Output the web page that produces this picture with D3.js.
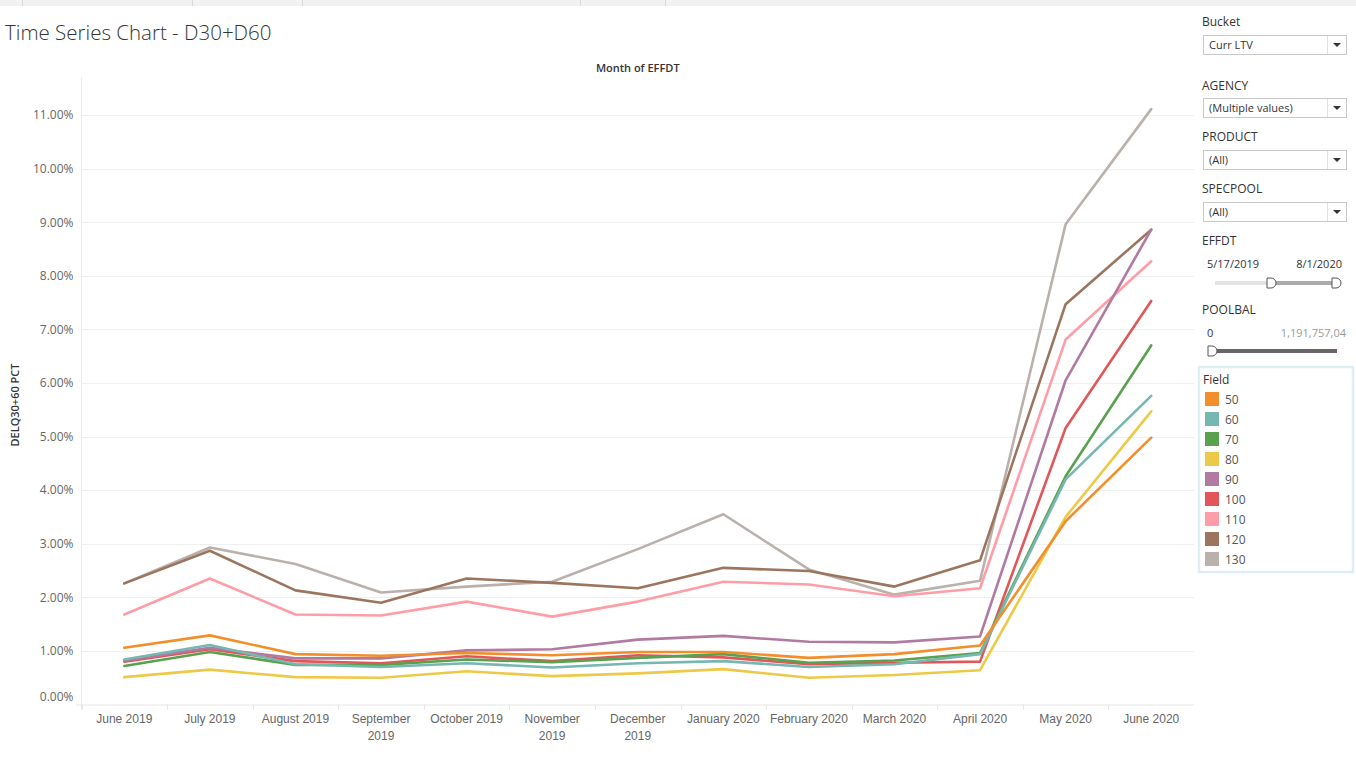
<!DOCTYPE html>
<html>
<head>
<meta charset="utf-8">
<script src="https://cdn.jsdelivr.net/npm/d3@7"></script>
<style>
  html, body { margin: 0; padding: 0; background: #fff; }
  svg { display: block; font-family: "Open Sans", "Noto Sans", sans-serif; }
</style>
</head>
<body>
<svg id="chart" width="1356" height="770"></svg>
<script>
// ---- data ----
const months = ["June 2019","July 2019","August 2019","September 2019","October 2019","November 2019","December 2019","January 2020","February 2020","March 2020","April 2020","May 2020","June 2020"];
const monthLabels = [["June 2019"],["July 2019"],["August 2019"],["September","2019"],["October 2019"],["November","2019"],["December","2019"],["January 2020"],["February 2020"],["March 2020"],["April 2020"],["May 2020"],["June 2020"]];
const fields = ["50","60","70","80","90","100","110","120","130"];
const fieldColors = ["#f28e2b","#76b7b2","#59a14f","#edc948","#b07aa1","#e15759","#ff9da7","#9c755f","#bab0ac"];
const s50  = [1.06,1.29,0.94,0.91,0.96,0.92,0.98,0.98,0.87,0.94,1.10,3.42,4.98];
const s60  = [0.84,1.11,0.75,0.70,0.77,0.69,0.77,0.81,0.70,0.75,0.94,4.20,5.76];
const s70  = [0.72,0.98,0.74,0.74,0.84,0.79,0.87,0.94,0.78,0.82,0.96,4.26,6.70];
const s80  = [0.51,0.65,0.51,0.50,0.62,0.53,0.58,0.66,0.50,0.55,0.64,3.50,5.47];
const s90  = [0.82,1.06,0.86,0.86,1.01,1.03,1.21,1.28,1.17,1.16,1.27,6.05,8.86];
const s100 = [0.80,1.03,0.81,0.77,0.90,0.81,0.92,0.88,0.75,0.78,0.80,5.16,7.53];
const s110 = [1.68,2.35,1.68,1.66,1.92,1.64,1.92,2.29,2.24,2.02,2.17,6.81,8.27];
const s120 = [2.26,2.87,2.13,1.90,2.35,2.27,2.17,2.55,2.49,2.20,2.69,7.47,8.86];
const s130 = [2.26,2.93,2.62,2.09,2.20,2.29,2.90,3.55,2.52,2.05,2.31,8.96,11.11];
const seriesValues = [s50,s60,s70,s80,s90,s100,s110,s120,s130];
const yTicks = [0,1,2,3,4,5,6,7,8,9,10,11];

// ---- layout ----
const svg = d3.select("#chart");
const plot = {left: 81.5, right: 1194, top: 77.5, bottom: 704.5};

const x = d3.scaleBand().domain(months).range([plot.left, plot.right]).paddingInner(0).paddingOuter(0);
const y = d3.scaleLinear().domain([0, 11.7]).range([plot.bottom, plot.top]);
const color = d3.scaleOrdinal().domain(fields).range(fieldColors);

// top strip
svg.append("rect").attr("x",0).attr("y",0).attr("width",1356).attr("height",6).attr("fill","#f2f2f2");
[22,192,302,580,665].forEach(px => svg.append("line").attr("x1",px+0.5).attr("x2",px+0.5).attr("y1",0).attr("y2",6).attr("stroke","#d9d9d9"));

// title
svg.append("text").attr("x",5).attr("y",40).attr("font-size",20.5).attr("fill","#333")
  .attr("font-family","'Open Sans', sans-serif").style("font-weight",300)
  .text("Time Series Chart - D30+D60");

// column header
svg.append("text").attr("x",(plot.left+plot.right)/2 + 0).attr("y",72).attr("text-anchor","middle")
  .attr("font-size",11).attr("font-weight",600).attr("fill","#333").text("Month of EFFDT");

// gridlines
svg.append("g").selectAll("line").data(yTicks.filter(d=>d>0)).join("line")
  .attr("x1",plot.left).attr("x2",plot.right)
  .attr("y1",d=>Math.round(y(d))+0.5).attr("y2",d=>Math.round(y(d))+0.5)
  .attr("stroke","#efefef").attr("stroke-width",1);

// y axis
const yAxis = svg.append("g").attr("transform",`translate(${plot.left},0)`)
  .call(d3.axisLeft(y).tickValues(yTicks).tickSize(0).tickPadding(8).tickFormat(d => d3.format(".2f")(d) + "%"));
yAxis.select(".domain").remove();
yAxis.selectAll("text").attr("font-size",12).attr("fill","#666").attr("font-family","'Open Sans', sans-serif")
  .attr("dy", d => d === 0 ? "-0.3em" : "0.32em");
svg.append("line").attr("x1",plot.left).attr("x2",plot.left).attr("y1",plot.top).attr("y2",plot.bottom+5)
  .attr("stroke","#ececec");

// y axis title
svg.append("text").attr("transform",`translate(19,${(plot.top+plot.bottom)/2 + 14}) rotate(-90)`)
  .attr("text-anchor","middle").attr("font-size",11).attr("font-weight",600).attr("fill","#333")
  .text("DELQ30+60 PCT");

// x axis
svg.append("line").attr("x1",76).attr("x2",plot.right).attr("y1",plot.bottom+0.5).attr("y2",plot.bottom+0.5).attr("stroke","#e6e6e6");
const xAxis = svg.append("g").attr("transform",`translate(0,${plot.bottom})`)
  .call(d3.axisBottom(x).tickSize(0).tickFormat(""));
xAxis.select(".domain").remove();
// band separators
svg.append("g").selectAll("line").data(months).join("line")
  .attr("x1",d=>Math.round(x(d))+0.5).attr("x2",d=>Math.round(x(d))+0.5)
  .attr("y1",plot.bottom).attr("y2",plot.bottom+5).attr("stroke","#e6e6e6");
xAxis.selectAll(".tick").each(function(d,i){
  const t = d3.select(this).append("text").attr("fill","#666").attr("font-size",12)
    .attr("text-anchor","middle").attr("y",18);
  monthLabels[i].forEach((ln,j) => t.append("tspan").attr("x",0).attr("dy", j===0 ? 0 : 17).text(ln));
});

// lines (draw 130 first so lower fields are on top)
const line = d3.line().x((d,i)=>x(months[i]) + x.bandwidth()/2).y(d=>y(d));
const seriesData = fields.map((f,i)=>({field:f, values:seriesValues[i]}));
svg.append("g").selectAll("path").data(seriesData.slice().reverse()).join("path")
  .attr("d",d=>line(d.values)).attr("fill","none")
  .attr("stroke",d=>color(d.field)).attr("stroke-width",2.6)
  .attr("stroke-linejoin","round").attr("stroke-linecap","round");

// ---- right panel ----
const panel = svg.append("g");
const px0 = 1202;
function label(txt, yy){ panel.append("text").attr("x",px0).attr("y",yy).attr("font-size",12).attr("fill","#333").text(txt); }
function dropdown(txt, yy){
  panel.append("rect").attr("x",1203.5).attr("y",yy+0.5).attr("width",143).attr("height",19).attr("fill","#fff").attr("stroke","#c9c9c9");
  panel.append("line").attr("x1",1327.5).attr("x2",1327.5).attr("y1",yy+1).attr("y2",yy+19).attr("stroke","#e0e0e0");
  panel.append("text").attr("x",1209).attr("y",yy+14).attr("font-size",11).attr("fill","#333").text(txt);
  panel.append("path").attr("d",`M${1333},${yy+8} L${1341},${yy+8} L${1337},${yy+12} Z`).attr("fill","#333");
}
label("Bucket",26); dropdown("Curr LTV",35);
label("AGENCY",90); dropdown("(Multiple values)",98);
label("PRODUCT",141); dropdown("(All)",150);
label("SPECPOOL",193); dropdown("(All)",202);
label("EFFDT",245);
panel.append("text").attr("x",1207).attr("y",268).attr("font-size",11).attr("fill","#333").text("5/17/2019");
panel.append("text").attr("x",1342).attr("y",268).attr("text-anchor","end").attr("font-size",11).attr("fill","#333").text("8/1/2020");
panel.append("rect").attr("x",1215).attr("y",281).attr("width",56).attr("height",4).attr("fill","#e3e3e3");
panel.append("rect").attr("x",1271).attr("y",281).attr("width",66).attr("height",4).attr("fill","#aaa");
function handle(cx, cy){
  panel.append("path").attr("d",`M${cx-4},${cy-5} L${cx},${cy-5} A5,5 0 0 1 ${cx},${cy+5} L${cx-4},${cy+5} Z`)
    .attr("fill","#fff").attr("stroke","#555").attr("stroke-width",1);
}
handle(1271,283); handle(1336,283);
label("POOLBAL",314);
panel.append("text").attr("x",1207).attr("y",337).attr("font-size",11).attr("fill","#333").text("0");
panel.append("text").attr("x",1346).attr("y",337).attr("text-anchor","end").attr("font-size",11).attr("fill","#999").text("1,191,757,04");
panel.append("rect").attr("x",1212).attr("y",349).attr("width",125).attr("height",4).attr("fill","#666");
handle(1212,351);

// legend
const lg = svg.append("g");
lg.append("rect").attr("x",1199).attr("y",367).attr("width",154).attr("height",205).attr("fill","#fff")
  .attr("stroke","#dfedf7").attr("stroke-width",2.5);
lg.append("text").attr("x",1203).attr("y",384).attr("font-size",12).attr("fill","#333").text("Field");
const items = lg.selectAll("g.item").data(fields).join("g").attr("class","item")
  .attr("transform",(d,i)=>`translate(1205,${392 + i*20})`);
items.append("rect").attr("width",14).attr("height",14).attr("fill",d=>color(d));
items.append("text").attr("x",20).attr("y",11.5).attr("font-size",12).attr("fill","#555").text(d=>d);
</script>
</body>
</html>
